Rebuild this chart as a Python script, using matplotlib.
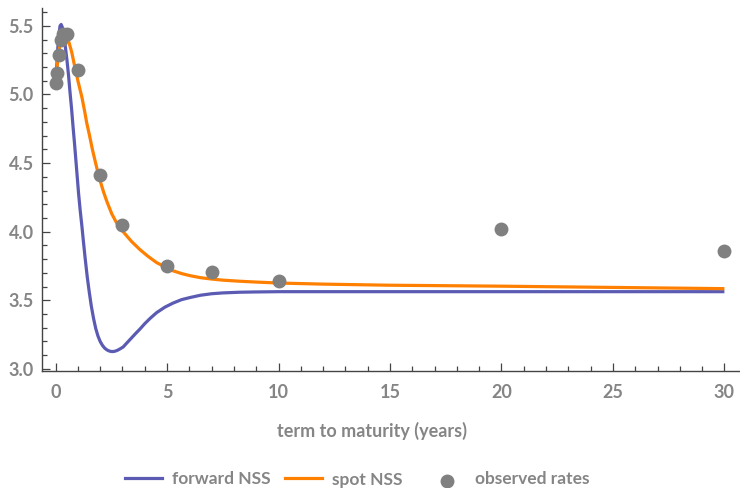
import matplotlib
matplotlib.use("Agg")
import matplotlib.pyplot as plt
from matplotlib.ticker import MultipleLocator
from matplotlib.lines import Line2D

# observed rates
obs_terms = [0.02, 0.083, 0.167, 0.25, 0.333, 0.5, 1, 2, 3, 5, 7, 10, 20, 30]
obs_rates = [5.08, 5.16, 5.29, 5.40, 5.44, 5.44, 5.18, 4.41, 4.05, 3.75, 3.71, 3.64, 4.02, 3.86]

# forward NSS curve
fwd_t = [0.0, 0.05, 0.1, 0.15, 0.2, 0.25, 0.3, 0.35, 0.4, 0.45, 0.51, 0.58, 0.65, 0.72,
         0.78, 0.85, 0.91, 0.97, 1.03, 1.1, 1.18, 1.25, 1.33, 1.42, 1.51, 1.6, 1.7, 1.8,
         1.9, 2.0, 2.1, 2.2, 2.3, 2.4, 2.5, 2.6, 2.7, 2.8, 2.9, 3.03, 3.2, 3.4, 3.6, 3.78,
         4.0, 4.25, 4.53, 4.9, 5.27, 5.65, 6.02, 6.5, 7.0, 7.5, 8.26, 9.0, 10, 15, 20, 30]
fwd_r = [5.05, 5.20, 5.34, 5.44, 5.50, 5.51, 5.49, 5.45, 5.40, 5.33, 5.25, 5.14, 5.01, 4.89,
         4.77, 4.64, 4.52, 4.40, 4.28, 4.16, 4.04, 3.925, 3.80, 3.67, 3.56, 3.46, 3.37, 3.295,
         3.24, 3.20, 3.172, 3.152, 3.139, 3.131, 3.127, 3.127, 3.131, 3.138, 3.147, 3.16, 3.19,
         3.225, 3.26, 3.29, 3.33, 3.37, 3.41, 3.45, 3.48, 3.505, 3.52, 3.537, 3.548, 3.554,
         3.559, 3.561, 3.563, 3.563, 3.563, 3.563]

# spot NSS curve
spot_t = [0.0, 0.05, 0.1, 0.2, 0.3, 0.4, 0.5, 0.6, 0.72, 0.85, 1.0, 1.09, 1.18, 1.3, 1.4,
          1.51, 1.65, 1.78, 1.9, 2.0, 2.15, 2.3, 2.52, 2.75, 3.03, 3.4, 3.78, 4.15, 4.53,
          5.0, 5.27, 5.65, 6.02, 6.5, 7.0, 7.5, 8.26, 9, 10, 12, 15, 20, 25, 30]
spot_r = [5.05, 5.16, 5.26, 5.37, 5.42, 5.43, 5.42, 5.38, 5.31, 5.21, 5.10, 5.04, 4.98, 4.88,
          4.79, 4.71, 4.60, 4.51, 4.43, 4.37, 4.29, 4.22, 4.13, 4.06, 4.00, 3.93, 3.87, 3.82,
          3.775, 3.735, 3.715, 3.695, 3.68, 3.665, 3.655, 3.647, 3.639, 3.633, 3.626, 3.618,
          3.61, 3.603, 3.594, 3.585]

xlabel = "term to maturity (years)"
legend_labels = ["forward NSS", "spot NSS", "observed rates"]

BLUE = "#5b5bb4"
ORANGE = "#ff8000"
GRAY = "#808080"
TXT = "#858585"
FONT = "Lato"
W, H = 740, 488

fig = plt.figure(figsize=(7.4, 4.88), dpi=100)
ax = fig.add_axes([42/W, 117/H, 698/W, 363/H])

ax.plot(fwd_t, fwd_r, color=BLUE, lw=2.3, solid_capstyle="butt", solid_joinstyle="round", zorder=2)
ax.plot(spot_t, spot_r, color=ORANGE, lw=2.3, solid_capstyle="butt", solid_joinstyle="round", zorder=3)
ax.plot(obs_terms, obs_rates, "o", color=GRAY, ms=10, mec="none", zorder=4)

ax.set_xlim(-0.61, 30.7)
ax.set_ylim(2.985, 5.63)

for s in ["top", "right"]:
    ax.spines[s].set_visible(False)
for s in ["left", "bottom"]:
    ax.spines[s].set_color("#444444")
    ax.spines[s].set_linewidth(1.0)

ax.xaxis.set_major_locator(MultipleLocator(5))
ax.xaxis.set_minor_locator(MultipleLocator(1))
ax.yaxis.set_major_locator(MultipleLocator(0.5))
ax.yaxis.set_minor_locator(MultipleLocator(0.1))
ax.tick_params(which="both", direction="in", color="#444444", width=0.9)
ax.tick_params(which="major", length=6)
ax.tick_params(which="minor", length=3.5)
ax.tick_params(axis="x", which="major", pad=9)
ax.tick_params(axis="y", which="major", pad=6)
ax.set_xticks([0, 5, 10, 15, 20, 25, 30])
ax.set_yticks([3.0, 3.5, 4.0, 4.5, 5.0, 5.5])
ax.set_xticklabels(["0", "5", "10", "15", "20", "25", "30"])
ax.set_yticklabels(["3.0", "3.5", "4.0", "4.5", "5.0", "5.5"])
for lab in ax.get_xticklabels() + ax.get_yticklabels():
    lab.set_fontfamily(FONT)
    lab.set_fontweight("bold")
    lab.set_fontsize(13)
    lab.set_color(TXT)

fig.text(372/W, 1 - 431/H, xlabel, ha="center", va="center",
         fontfamily=FONT, fontweight="bold", fontsize=13, color=TXT)

# legend drawn manually (figure pixel coordinates)
ly = 1 - 477.5/H
fig.add_artist(Line2D([125/W, 162/W], [ly, ly], color=BLUE, lw=2.3, transform=fig.transFigure))
fig.add_artist(Line2D([285/W, 322/W], [ly, ly], color=ORANGE, lw=2.3, transform=fig.transFigure))
fig.add_artist(Line2D([447/W], [1 - 480.5/H], ls="none", marker="o", color=GRAY, ms=10, mec="none",
                      transform=fig.transFigure))
for xpix, lab in zip([172, 332, 475], legend_labels):
    fig.text(xpix/W, 1 - 479.5/H, lab, ha="left", va="center",
             fontfamily=FONT, fontweight="bold", fontsize=12.5, color=TXT)

fig.savefig("out.png", dpi=100)
